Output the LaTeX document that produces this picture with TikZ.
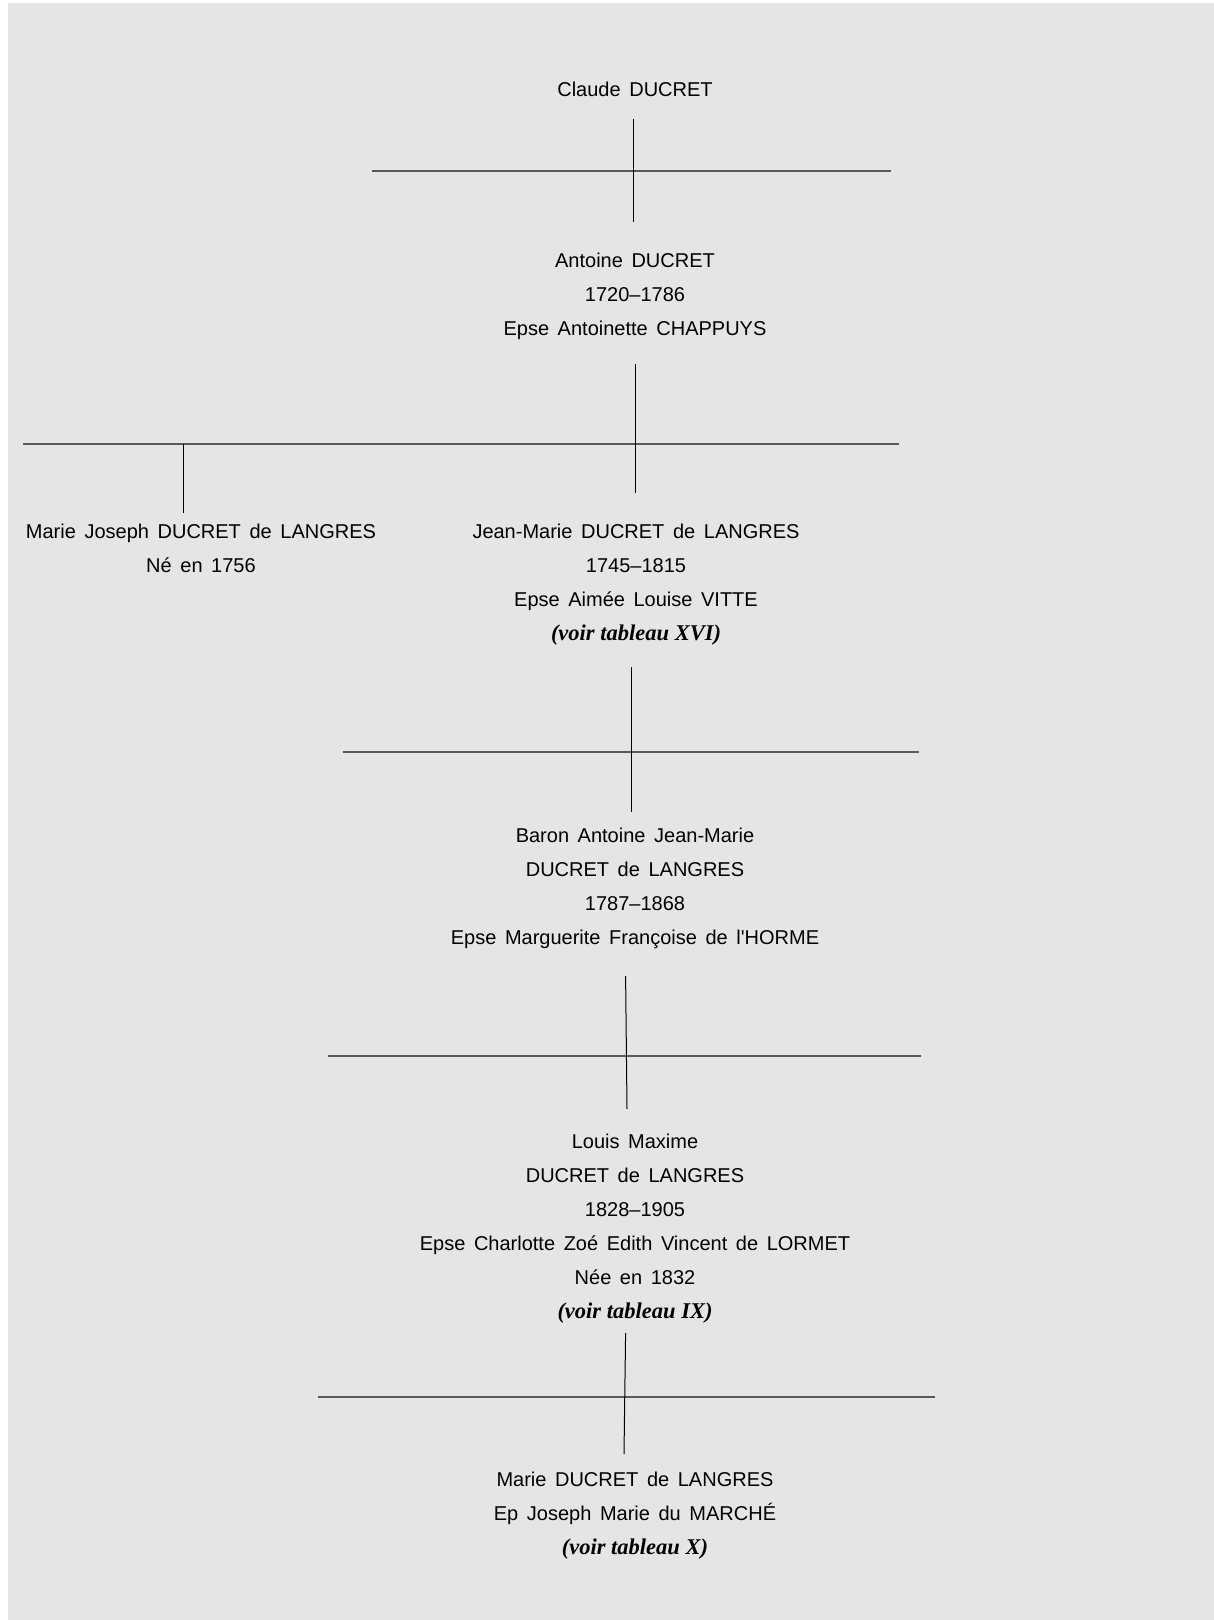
\documentclass[tikz,border=0pt]{standalone}
\usepackage{fontspec}
\setmainfont{Liberation Sans}
\newfontfamily\tnr{Liberation Serif}
\newcommand\personfont{\fontsize{20}{34}\selectfont\spaceskip=8.6pt\relax}
\newcommand\voirtab[1]{{\fontsize{22.5}{34}\selectfont\tnr\bfseries\itshape\spaceskip=0pt\relax(voir tableau #1)}}
\begin{document}
\begin{tikzpicture}[x=1pt,y=-1pt,
  person/.style={align=center,inner sep=0pt,font=\personfont,anchor=base},
  hline/.style={line width=2pt,draw=black!65},
  vline/.style={line width=1pt,draw=black}]
\useasboundingbox (0,0) rectangle (1214,1620);
\fill[white] (0,0) rectangle (1214,1620);
\fill[black!10] (8,3) rectangle (1214,1620);

% base anchor = baseline of the last line of each node
\node[person] (claude) at (635,96) {Claude DUCRET};
\node[person] (antoine) at (635,335) {Antoine DUCRET\\1720–1786\\Epse Antoinette CHAPPUYS};
\node[person] (mjoseph) at (201,572) {Marie Joseph DUCRET de LANGRES\\Né en 1756};
\node[person] (jeanmarie) at (636,640) {Jean-Marie DUCRET de LANGRES\\1745–1815\\Epse Aimée Louise VITTE\\\voirtab{XVI}};
\node[person] (baron) at (635,944) {Baron Antoine Jean-Marie\\DUCRET de LANGRES\\1787–1868\\Epse Marguerite Françoise de l\textquotesingle HORME};
\node[person] (louis) at (635,1318) {Louis Maxime\\DUCRET de LANGRES\\1828–1905\\Epse Charlotte Zoé Edith Vincent de LORMET\\Née en 1832\\\voirtab{IX}};
\node[person] (marie) at (635,1554) {Marie DUCRET de LANGRES\\Ep Joseph Marie du MARCHÉ\\\voirtab{X}};

% coordinates
\coordinate (v1a) at (633,119);  \coordinate (v1b) at (633,222);
\coordinate (h1a) at (372,171);  \coordinate (h1b) at (891,171);
\coordinate (v2a) at (635,364);  \coordinate (v2b) at (635,493);
\coordinate (h2a) at (23,444);   \coordinate (h2b) at (899,444);
\coordinate (d2a) at (183.5,444); \coordinate (d2b) at (183.5,513);
\coordinate (v3a) at (631,667);  \coordinate (v3b) at (631,812);
\coordinate (h3a) at (343,752);  \coordinate (h3b) at (919,752);
\coordinate (v4a) at (625.6,976); \coordinate (v4b) at (627,1109);
\coordinate (h4a) at (328,1056); \coordinate (h4b) at (921,1056);
\coordinate (v5a) at (625.6,1333); \coordinate (v5b) at (624,1454);
\coordinate (h5a) at (318,1397); \coordinate (h5b) at (935,1397);

\draw[hline] (h1a) -- (h1b);
\draw[hline] (h2a) -- (h2b);
\draw[hline] (h3a) -- (h3b);
\draw[hline] (h4a) -- (h4b);
\draw[hline] (h5a) -- (h5b);
\draw[vline] (v1a) -- (v1b);
\draw[vline] (v2a) -- (v2b);
\draw[vline] (d2a) -- (d2b);
\draw[vline] (v3a) -- (v3b);
\draw[vline] (v4a) -- (v4b);
\draw[vline] (v5a) -- (v5b);
\end{tikzpicture}
\end{document}
